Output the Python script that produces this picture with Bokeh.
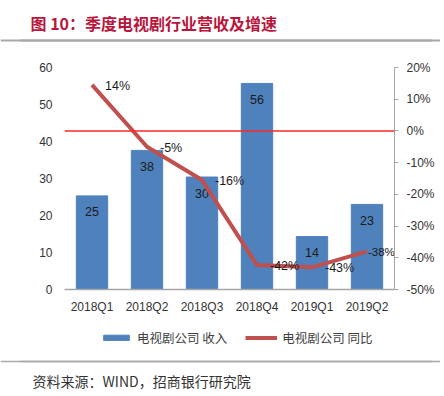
from bokeh.plotting import figure
from bokeh.layouts import column
from bokeh.models import (Range1d, LinearAxis, FixedTicker, NumeralTickFormatter, Span,
                          Label, Legend, LegendItem, ColumnDataSource, Plot)
from bokeh.core.properties import value
from bokeh.embed import file_html
from bokeh.resources import INLINE

quarters = ["2018Q1", "2018Q2", "2018Q3", "2018Q4", "2019Q1", "2019Q2"]
revenue = [25.3, 37.6, 30.4, 55.7, 14.3, 23.0]
revenue_labels = ["25", "38", "30", "56", "14", "23"]
yoy = [0.145, -0.05, -0.155, -0.423, -0.43, -0.38]
yoy_labels = ["14%", "-5%", "-16%", "-42%", "-43%", "-38%"]
left_ticks = [0, 10, 20, 30, 40, 50, 60]
right_ticks = [-0.5, -0.4, -0.3, -0.2, -0.1, 0.0, 0.1, 0.2]
series_names = ["电视剧公司 收入", "电视剧公司 同比"]

n = len(quarters)
idx = list(range(n))
# label offsets: the last label is kept inside the plot frame
lab_dx = [13] * (n - 1) + [1]
lab_fs = ["12.5px"] * (n - 1) + ["11.5px"]
src = ColumnDataSource(dict(x=idx, rev=revenue, rev_lab=revenue_labels,
                            yoy=yoy, yoy_lab=yoy_labels, dx=lab_dx, fs=lab_fs))

NUM_FONT = "Liberation Sans"
CJK = "Noto Sans CJK SC"
TXT = "#333333"
BAR_C = "#4F81BD"
LINE_C = "#C0504D"
RULE_C = "#a8a8a8"
W = 440
HAS_FRAME_ALIGN = "frame_align" in Plot.properties()


def blank(h):
    f = figure(width=W, height=h, output_backend="svg", toolbar_location=None,
               x_range=Range1d(0, W), y_range=Range1d(0, h), min_border=0,
               min_border_left=0, min_border_right=0, min_border_top=0,
               min_border_bottom=0, x_axis_location=None, y_axis_location=None,
               outline_line_color=None)
    f.grid.visible = False
    if HAS_FRAME_ALIGN:
        f.frame_align = False
    return f


def rule(f, y, thick):
    f.add_layout(Span(location=y, dimension="width", line_color=RULE_C,
                      line_width=thick))
    f.line(x=[20, 432], y=[y, y], line_color=RULE_C, line_width=thick)


# header
HH = 44
head = blank(HH)
head.add_layout(Label(x=30, y=HH - 22.5, text="图 10：季度电视剧行业营收及增速",
                      text_font=CJK, text_font_size="16px", text_font_style="bold",
                      text_color="#B8163C", text_baseline="middle"))
rule(head, HH - 40, 2)

# main chart
MH = 276
p = figure(width=W, height=MH, output_backend="svg", toolbar_location=None,
           x_range=Range1d(-0.5, n - 0.5), y_range=Range1d(0, 60),
           min_border_left=64, min_border_right=W - 394, min_border_top=23,
           min_border_bottom=MH - 245, outline_line_color=None)
if HAS_FRAME_ALIGN:
    p.frame_align = False
p.extra_y_ranges = {"pct": Range1d(-0.5, 0.2)}
p.grid.visible = False

xa = p.xaxis[0]
xa.ticker = FixedTicker(ticks=idx)
xa.major_label_overrides = {i: q for i, q in zip(idx, quarters)}
xa.axis_line_color = "#a6a6a6"
xa.axis_line_width = 1.5
xa.major_tick_line_color = None
xa.major_tick_out = 0
xa.minor_tick_line_color = None
xa.major_label_standoff = 10
xa.major_label_text_font = NUM_FONT
xa.major_label_text_font_size = "12px"
xa.major_label_text_color = TXT

ya = p.yaxis[0]
ya.ticker = FixedTicker(ticks=left_ticks)
ya.axis_line_color = None
ya.major_tick_line_color = None
ya.major_tick_out = 0
ya.minor_tick_line_color = None
ya.major_label_standoff = 12
ya.major_label_text_font = NUM_FONT
ya.major_label_text_font_size = "12px"
ya.major_label_text_color = TXT

ra = LinearAxis(y_range_name="pct", ticker=FixedTicker(ticks=right_ticks),
                formatter=NumeralTickFormatter(format="0%"))
ra.axis_line_color = "#a6a6a6"
ra.major_tick_line_color = "#a6a6a6"
ra.major_tick_out = 4
ra.major_tick_in = 0
ra.minor_tick_line_color = None
ra.major_label_standoff = 8
ra.major_label_text_font = NUM_FONT
ra.major_label_text_font_size = "12px"
ra.major_label_text_color = TXT
p.add_layout(ra, "right")

p.vbar(x="x", top="rev", width=0.57, source=src, fill_color=BAR_C, line_color=BAR_C)
p.text(x="x", y="rev", text="rev_lab", source=src, text_align="center",
       text_baseline="middle", y_offset=16, text_font=value(NUM_FONT),
       text_font_size="12.5px", text_color="#1a1a1a")

p.add_layout(Span(location=0, dimension="width", y_range_name="pct",
                  line_color="#FF2626", line_width=1.5))

p.line(x="x", y="yoy", source=src, y_range_name="pct", line_color=LINE_C,
       line_width=4, line_join="round")
p.text(x="x", y="yoy", text="yoy_lab", source=src, y_range_name="pct",
       text_align="left", text_baseline="middle", x_offset="dx", y_offset=1,
       text_font=value(NUM_FONT), text_font_size="fs", text_color="#1a1a1a")

# footer with legend and source
FH = 72
foot = blank(FH)
nan = float("nan")
proxy = ColumnDataSource(dict(x=[nan], top=[nan], y=[nan]))
lb = foot.vbar(x="x", top="top", width=1, source=proxy, fill_color=BAR_C, line_color=BAR_C)
ll = foot.line(x="x", y="y", source=proxy, line_color=LINE_C, line_width=4)
legend = Legend(items=[LegendItem(label=series_names[0], renderers=[lb]),
                       LegendItem(label=series_names[1], renderers=[ll])],
                orientation="horizontal", location=(100, FH - 27), padding=0, margin=0,
                spacing=18, label_standoff=5, glyph_width=32, glyph_height=7,
                label_height=20, border_line_color=None, background_fill_alpha=0,
                label_text_font=CJK, label_text_font_size="12.5px",
                label_text_color="#404040")
foot.add_layout(legend)
rule(foot, FH - 41, 1.5)
foot.add_layout(Label(x=32, y=FH - 60, text="资料来源：WIND，招商银行研究院",
                      text_font=CJK, text_font_size="14px", text_color="#333333",
                      text_baseline="middle"))

layout = column(head, p, foot, spacing=0)
open("out.html", "w").write(file_html(layout, INLINE))
